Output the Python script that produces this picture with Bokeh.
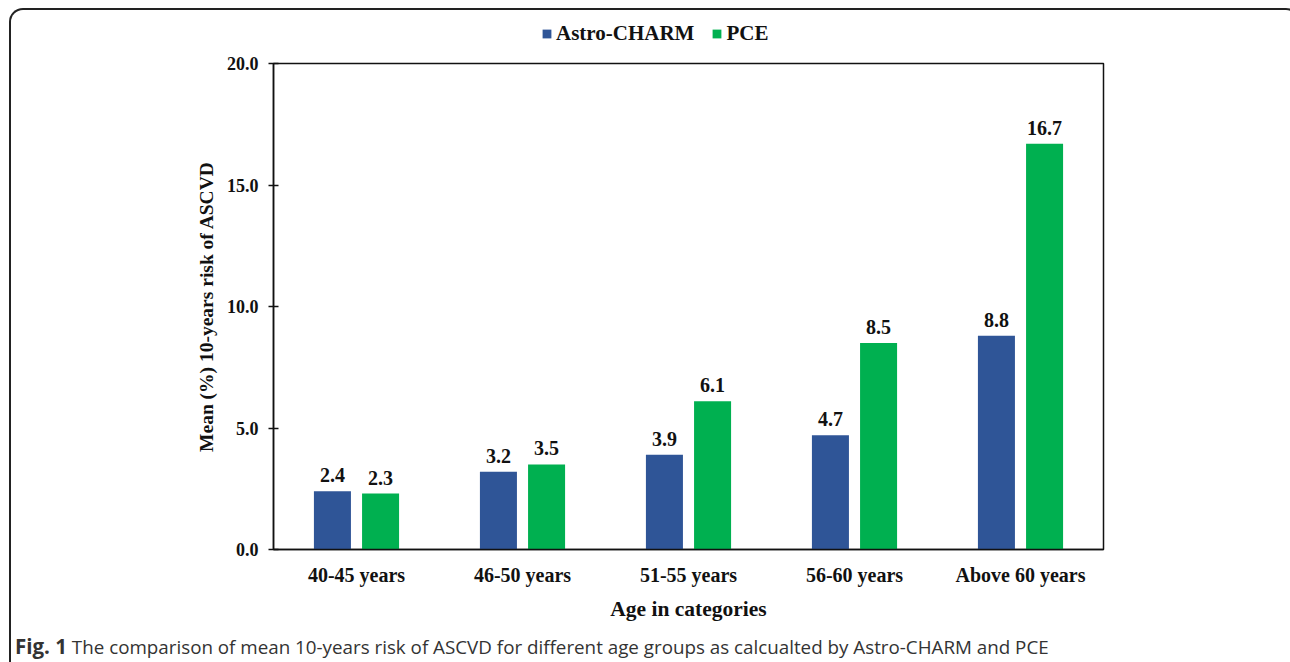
from bokeh.plotting import figure
from bokeh.layouts import column
from bokeh.models import (ColumnDataSource, FactorRange, LabelSet, Legend, Div,
                          LegendItem, Range1d, FixedTicker, NumeralTickFormatter,
                          InlineStyleSheet)
from bokeh.transform import dodge
from bokeh.core.properties import value
from bokeh.embed import file_html
from bokeh.resources import INLINE

categories = ["40-45 years", "46-50 years", "51-55 years", "56-60 years", "Above 60 years"]
astro_charm = [2.4, 3.2, 3.9, 4.7, 8.8]
pce = [2.3, 3.5, 6.1, 8.5, 16.7]
series_names = ["Astro-CHARM", "PCE"]
y_ticks = [0, 5, 10, 15, 20]
caption_bold = "Fig. 1"
caption_text = ("The comparison of mean 10-years risk of ASCVD for different age groups "
                "as calcualted by Astro-CHARM and PCE")

BLUE = "#2F5597"
GREEN = "#00B050"
SERIF = "Liberation Serif"

W_TOT = 1290
H_LEG, H_MAIN, H_CAP = 50, 575, 37
ML, MR, MT, MB = 273, 187, 13, 76

src = ColumnDataSource(dict(
    cat=categories,
    astro=astro_charm,
    pce=pce,
    astro_lbl=[f"{v:.1f}" for v in astro_charm],
    pce_lbl=[f"{v:.1f}" for v in pce],
))

OFF = 0.145
W = 0.223

# ---------------- legend strip (frame aligned with main chart) ----------------
leg = figure(width=W_TOT, height=H_LEG, x_axis_type=None, y_axis_type=None,
             output_backend="svg", toolbar_location=None,
             min_border_left=ML, min_border_right=MR, min_border_top=0, min_border_bottom=0,
             x_range=FactorRange(factors=categories, range_padding=0),
             y_range=Range1d(100, 101))
leg.outline_line_color = None
leg.xgrid.visible = False
leg.ygrid.visible = False
# same series as the chart; the strip's y range keeps the bars out of view
lr1 = leg.vbar(x=dodge("cat", -OFF, range=leg.x_range), top="astro", width=W,
               source=src, fill_color=BLUE, line_color=None)
lr2 = leg.vbar(x=dodge("cat", OFF, range=leg.x_range), top="pce", width=W,
               source=src, fill_color=GREEN, line_color=None)
legend = Legend(items=[LegendItem(label=series_names[0], renderers=[lr1]),
                       LegendItem(label=series_names[1], renderers=[lr2])],
                orientation="horizontal", location=(541 - ML, 4))
legend.label_text_font = SERIF
legend.label_text_font_style = "bold"
legend.label_text_font_size = "21px"
legend.label_text_color = "#111"
legend.glyph_width = 11
legend.glyph_height = 11
legend.label_standoff = 4
legend.spacing = 17
legend.border_line_color = None
legend.background_fill_alpha = 0
legend.padding = 0
legend.margin = 0
leg.add_layout(legend)

# ---------------- main chart ----------------
p = figure(x_range=FactorRange(factors=categories, range_padding=0),
           y_range=Range1d(0, 20),
           width=W_TOT, height=H_MAIN,
           output_backend="svg", toolbar_location=None,
           min_border_left=ML, min_border_right=MR,
           min_border_top=MT, min_border_bottom=MB)

p.vbar(x=dodge("cat", -OFF, range=p.x_range), top="astro", width=W,
       source=src, fill_color=BLUE, line_color=None)
p.vbar(x=dodge("cat", OFF, range=p.x_range), top="pce", width=W,
       source=src, fill_color=GREEN, line_color=None)

for xoff, col, lbl in [(-OFF, "astro", "astro_lbl"), (OFF, "pce", "pce_lbl")]:
    ls = LabelSet(x=dodge("cat", xoff, range=p.x_range), y=col, text=lbl,
                  source=src, y_offset=9, text_align="center",
                  text_baseline="alphabetic", text_font=value(SERIF),
                  text_font_style="bold", text_font_size="20px", text_color="#111")
    p.add_layout(ls)

p.outline_line_color = "#111"
p.outline_line_width = 1.5
p.xgrid.visible = False
p.ygrid.visible = False
p.background_fill_color = "white"
p.border_fill_color = "white"

p.yaxis.ticker = FixedTicker(ticks=y_ticks)
p.yaxis.formatter = NumeralTickFormatter(format="0.0")
p.yaxis.major_tick_in = 5
p.yaxis.major_tick_out = 5
p.yaxis.minor_tick_line_color = None
p.yaxis.axis_line_color = "#111"
p.yaxis.axis_line_width = 1.5
p.yaxis.major_tick_line_color = "#111"
p.yaxis.major_tick_line_width = 1.5
p.yaxis.major_label_text_font = SERIF
p.yaxis.major_label_text_font_style = "bold"
p.yaxis.major_label_text_font_size = "18px"
p.yaxis.major_label_text_color = "#111"
p.yaxis.major_label_standoff = 10
p.yaxis.axis_label = "Mean (%) 10-years risk of ASCVD"
p.yaxis.axis_label_text_font = SERIF
p.yaxis.axis_label_text_font_style = "bold"
p.yaxis.axis_label_text_font_size = "19.5px"
p.yaxis.axis_label_text_color = "#111"
p.yaxis.axis_label_standoff = 7

p.xaxis.major_tick_in = 0
p.xaxis.major_tick_out = 0
p.xaxis.major_tick_line_color = None
p.xaxis.axis_line_color = "#111"
p.xaxis.axis_line_width = 1.5
p.xaxis.major_label_text_font = SERIF
p.xaxis.major_label_text_font_style = "bold"
p.xaxis.major_label_text_font_size = "20px"
p.xaxis.major_label_text_color = "#111"
p.xaxis.major_label_standoff = 14
p.xaxis.axis_label = "Age in categories"
p.xaxis.axis_label_text_font = SERIF
p.xaxis.axis_label_text_font_style = "bold"
p.xaxis.axis_label_text_font_size = "21.5px"
p.xaxis.axis_label_text_color = "#111"
p.xaxis.axis_label_standoff = 8

# ---------------- caption ----------------
cap = Div(text=f'<span style="font-weight:700;font-size:20.5px">{caption_bold}</span> {caption_text}',
          width=W_TOT, height=H_CAP,
          styles={"font-family": "'Open Sans', sans-serif", "font-size": "18.8px",
                  "color": "#333333", "padding-left": "10px", "line-height": "32px",
                  "white-space": "nowrap", "box-sizing": "border-box",
                  "overflow": "hidden"})

box_css = InlineStyleSheet(css="""
:host { position: relative; }
:host::after {
  content: ''; position: absolute; left: 9px; top: 8px; right: 0px; bottom: 0px;
  border: 2px solid #222; border-bottom: none;
  border-top-left-radius: 14px; border-top-right-radius: 14px;
  pointer-events: none; z-index: 10;
}
""")
layout = column(leg, p, cap, spacing=0)
layout.stylesheets = [box_css]

open("out.html", "w").write(file_html(layout, INLINE))
